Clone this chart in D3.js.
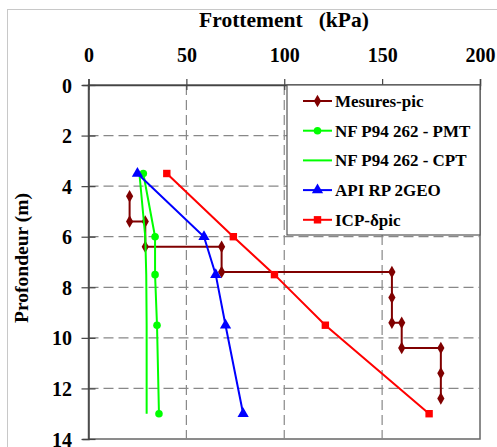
<!DOCTYPE html>
<html><head><meta charset="utf-8">
<script src="https://cdn.jsdelivr.net/npm/d3@7"></script>
<style>
html,body{margin:0;padding:0;background:#fff;}
</style></head>
<body>
<svg id="c" width="497" height="447"></svg>
<script>
const xTicks = [0, 50, 100, 150, 200];
const yTicks = [0, 2, 4, 6, 8, 10, 12, 14];
const depthMes = [4.4, 5.4, 5.4, 6.4, 6.4, 7.4, 7.4, 8.4, 9.4, 9.4, 10.4, 10.4, 11.4, 12.4];
const valMes   = [21, 21, 29, 29, 68, 68, 155, 155, 155, 160, 160, 180, 180, 180];
const depthStd = [3.5, 6, 7.5, 9.5, 13];
const valPMT = [28, 34, 34, 35, 36];
const valCPT = [26, 29, 29.5, 29.7, 29.7];
const valAPI = [25, 59, 65, 70, 79];
const valICP = [40, 74, 95, 121, 174];
const seriesNames = ["Mesures-pic", "NF P94 262 - PMT", "NF P94 262 - CPT", "API RP 2GEO", "ICP-δpic"];

const series = [
  {name: seriesNames[0], d: depthMes, v: valMes, color: "#800000", sym: d3.symbolDiamond, size: 45},
  {name: seriesNames[1], d: depthStd, v: valPMT, color: "#00ff00", sym: d3.symbolCircle, size: 45},
  {name: seriesNames[2], d: depthStd, v: valCPT, color: "#00ff00", sym: null, size: 0},
  {name: seriesNames[3], d: depthStd, v: valAPI, color: "#0000ff", sym: d3.symbolTriangle, size: 55},
  {name: seriesNames[4], d: depthStd, v: valICP, color: "#ff0000", sym: d3.symbolSquare, size: 55}
];

const FONT = "Liberation Serif";
const svg = d3.select("#c").attr("font-family", FONT).attr("font-weight", "bold");
const x = d3.scaleLinear().domain([0, 200]).range([88.5, 480]);
const y = d3.scaleLinear().domain([0, 14]).range([85, 439]);

// outer frame
svg.append("rect").attr("x", 7.5).attr("y", 9.5).attr("width", 500).attr("height", 450)
  .attr("fill", "none").attr("stroke", "#c8c8c8").attr("stroke-width", 1);

// plot box
svg.append("rect").attr("x", x(0)).attr("y", y(0)).attr("width", x(200) - x(0)).attr("height", y(14) - y(0))
  .attr("fill", "#fff").attr("stroke", "#666").attr("stroke-width", 1.5);

// grid
const grid = svg.append("g");
grid.selectAll("line.gx").data(xTicks.slice(1, -1)).enter().append("line")
  .attr("x1", d => x(d)).attr("x2", d => x(d)).attr("y1", y(0)).attr("y2", y(14))
  .attr("stroke", "#888").attr("stroke-width", 1.2).attr("stroke-dasharray", "10,5");
grid.selectAll("line.gy").data(yTicks.slice(1, -1)).enter().append("line")
  .attr("x1", x(0)).attr("x2", x(200)).attr("y1", d => y(d)).attr("y2", d => y(d))
  .attr("stroke", "#888").attr("stroke-width", 1.2).attr("stroke-dasharray", "10,5");

// axes
const gx = svg.append("g").attr("transform", `translate(0,${y(0)})`)
  .call(d3.axisTop(x).tickValues(xTicks).tickSize(6).tickPadding(0));
gx.attr("font-family", FONT).attr("font-weight", "bold").attr("font-size", 20);
gx.select(".domain").attr("stroke", "#444").attr("stroke-width", 1.5);
gx.selectAll(".tick line").attr("y1", -6).attr("y2", 5).attr("stroke", "#444").attr("stroke-width", 1.2);
gx.selectAll(".tick text").attr("y", -23).attr("dy", 0).attr("fill", "#000");

const gy = svg.append("g").attr("transform", `translate(${x(0)},0)`)
  .call(d3.axisLeft(y).tickValues(yTicks).tickSize(6));
gy.attr("font-family", FONT).attr("font-weight", "bold").attr("font-size", 20);
gy.select(".domain").attr("stroke", "#444").attr("stroke-width", 1.5);
gy.selectAll(".tick line").attr("x1", -7).attr("x2", 7).attr("stroke", "#444").attr("stroke-width", 1.2);
gy.selectAll(".tick text").attr("x", -16.5).attr("dy", "0.35em").attr("fill", "#000");

// titles
svg.append("text").attr("x", 284).attr("y", 27).attr("text-anchor", "middle")
  .attr("font-size", 21.5).attr("xml:space", "preserve").style("white-space", "pre").text("Frottement   (kPa)");
svg.append("text").attr("transform", "translate(28,258) rotate(-90)").attr("text-anchor", "middle")
  .attr("font-size", 19.5).text("Profondeur (m)");

// series
const line = d3.line();
series.forEach(s => {
  const pts = s.d.map((d, i) => [x(s.v[i]), y(d)]);
  svg.append("path").attr("d", line(pts)).attr("fill", "none").attr("stroke", s.color).attr("stroke-width", 2);
  if (s.sym) {
    svg.append("g").selectAll("path").data(pts).enter().append("path")
      .attr("transform", p => `translate(${p[0]},${p[1]})`)
      .attr("d", d3.symbol().type(s.sym).size(s.size)).attr("fill", s.color);
  }
});

// legend
const lg = svg.append("g");
lg.append("rect").attr("x", 287).attr("y", 85).attr("width", 193).attr("height", 150)
  .attr("fill", "#fff").attr("stroke", "#555").attr("stroke-width", 1.2);
series.forEach((s, i) => {
  const ly = 101 + i * 29.7;
  lg.append("line").attr("x1", 303).attr("x2", 332).attr("y1", ly).attr("y2", ly)
    .attr("stroke", s.color).attr("stroke-width", 2);
  if (s.sym) lg.append("path").attr("transform", `translate(317.5,${ly})`)
    .attr("d", d3.symbol().type(s.sym).size(s.size)).attr("fill", s.color);
  lg.append("text").attr("x", 335).attr("y", ly).attr("dy", "0.35em").attr("font-size", 17).text(s.name);
});
</script>
</body></html>
